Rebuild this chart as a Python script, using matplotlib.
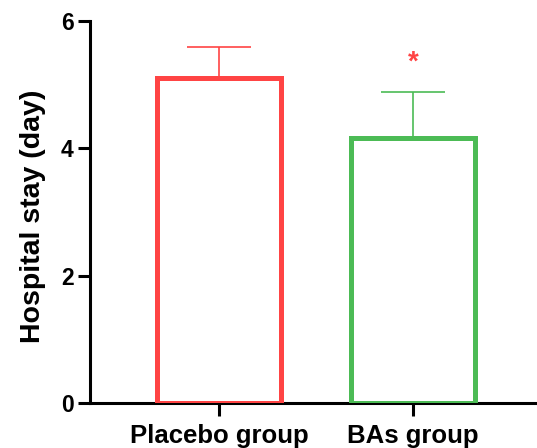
import numpy as np
import matplotlib.pyplot as plt

groups = ["Placebo group", "BAs group"]
means = [5.10, 4.16]
sds = [0.49, 0.72]
edge_colors = ["#FF4444", "#4CBB55"]
star_y = 5.345

plt.rcParams['font.family'] = ['Liberation Sans', 'DejaVu Sans']
plt.rcParams['font.weight'] = 'bold'

fig = plt.figure(figsize=(5.37, 4.48), dpi=100)
ax = fig.add_axes([0.1667, 0.1004, 0.8333, 0.8526])

x = np.arange(len(groups))
ax.bar(x, means, width=0.64, facecolor='white', edgecolor=edge_colors, linewidth=3.6, zorder=3)
for xi, m, s, c in zip(x, means, sds, edge_colors):
    ax.errorbar(xi, m, yerr=[[0], [s]], color=c, capsize=23, elinewidth=1.2,
                capthick=1.2, zorder=2)
ax.text(x[1], star_y, "*", color=edge_colors[0], ha='center', va='center',
        fontsize=20, fontweight='bold')

ax.set_xlim(-0.667, 1.64)
ax.set_ylim(0, 6)
ax.set_yticks([0, 2, 4, 6])
ax.set_xticks(x)
ax.set_xticklabels(groups, fontsize=18.5, fontweight='bold')
ax.set_ylabel("Hospital stay (day)", fontsize=20.5, fontweight='bold')
ax.yaxis.set_label_coords(-0.097, 0.49)
for s in ['top', 'right']:
    ax.spines[s].set_visible(False)
for s in ['left', 'bottom']:
    ax.spines[s].set_linewidth(2.2)
ax.tick_params(axis='both', width=2.2, length=9)
ax.tick_params(axis='y', labelsize=16.5, pad=2.5)
ax.tick_params(axis='x', pad=6)
for lab in ax.get_yticklabels():
    lab.set_fontweight('bold')

fig.savefig("out.png", dpi=100)
